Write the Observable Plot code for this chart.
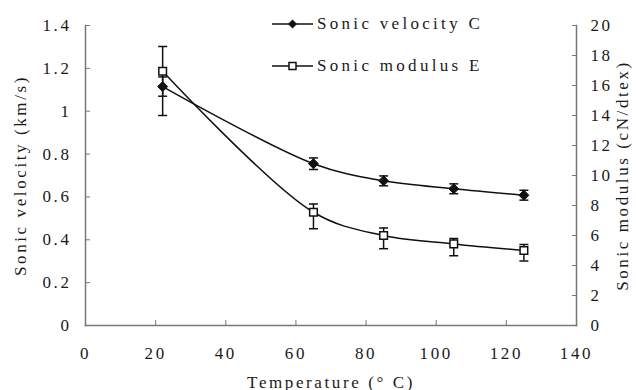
<!DOCTYPE html>
<html>
<head>
<meta charset="utf-8">
<script src="https://cdn.jsdelivr.net/npm/d3@7"></script>
<script src="https://cdn.jsdelivr.net/npm/@observablehq/plot@0.6"></script>
<style>
  body { margin: 0; background: #fff; }
  #wrap { position: relative; width: 636px; height: 390px; font-family: "Liberation Serif", serif; }
  #legend { position: absolute; left: 272px; top: 0; font-size: 17px; letter-spacing: 3.3px; color: #1a1a1a; }
  .row { position: absolute; left: 0; white-space: nowrap; display: flex; align-items: center; }
  .row svg { display: block; }
  .row span { margin-left: 4px; }
</style>
</head>
<body>
<div id="wrap"></div>
<script>
// ---- data ----
const temps = [22, 65, 85, 105, 125];
const velocity = [1.115, 0.755, 0.675, 0.638, 0.608];      // km/s
const velocityLo = [1.07, 0.728, 0.652, 0.615, 0.585];
const velocityHi = [1.16, 0.782, 0.698, 0.661, 0.631];
const modulus = [16.95, 7.55, 6.0, 5.44, 5.0];                // cN/dtex
const modulusLo = [14.0, 6.45, 5.12, 4.65, 4.3];
const modulusHi = [18.6, 8.1, 6.5, 5.8, 5.4];
const xTicks = [0, 20, 40, 60, 80, 100, 120, 140];
const leftTicks = [0, 0.2, 0.4, 0.6, 0.8, 1, 1.2, 1.4];
const rightTicks = [0, 2, 4, 6, 8, 10, 12, 14, 16, 18, 20];
const seriesNames = ["Sonic velocity C", "Sonic modulus E"];

const leftMax = 1.4, rightMax = 20;
const toLeft = (e) => e * leftMax / rightMax;

const vel = temps.map((t, i) => ({t, v: velocity[i], lo: velocityLo[i], hi: velocityHi[i]}));
const mod = temps.map((t, i) => ({t, v: toLeft(modulus[i]), lo: toLeft(modulusLo[i]), hi: toLeft(modulusHi[i])}));

const cap = {
  draw(context, size) {
    const r = Math.sqrt(size / Math.PI);
    context.moveTo(-r, 0);
    context.lineTo(r, 0);
  }
};

const axisColor = "#777";
const textColor = "#1a1a1a";

const chart = Plot.plot({
  width: 636,
  height: 390,
  marginTop: 25,
  marginBottom: 65,
  marginLeft: 85,
  marginRight: 60,
  style: {fontFamily: "'Liberation Serif', serif", fontSize: "17px", letterSpacing: "2.6px", color: textColor, background: "white"},
  x: {domain: [0, 140]},
  y: {domain: [0, leftMax]},
  marks: [
    Plot.frame({anchor: "left", stroke: axisColor, strokeWidth: 1.5}),
    Plot.frame({anchor: "bottom", stroke: axisColor, strokeWidth: 1.5}),
    Plot.frame({anchor: "right", stroke: axisColor, strokeWidth: 1.5}),
    Plot.axisX({ticks: xTicks, tickSize: -5, tickPadding: 26, stroke: axisColor, fill: textColor,
      label: "Temperature (° C)", labelAnchor: "center", labelArrow: "none", labelOffset: 62, tickFormat: d => String(d)}),
    Plot.axisY({anchor: "left", ticks: leftTicks, tickSize: -5, tickPadding: 19, stroke: axisColor, fill: textColor,
      label: "Sonic velocity (km/s)", labelAnchor: "center", labelArrow: "none", labelOffset: 72, tickFormat: d => String(d)}),
    Plot.axisY({anchor: "right", ticks: rightTicks.map(toLeft), tickSize: -5, tickPadding: 19, stroke: axisColor, fill: textColor,
      label: "Sonic modulus (cN/dtex)", labelAnchor: "center", labelArrow: "none", labelOffset: 51,
      tickFormat: d => String(Math.round(d * rightMax / leftMax))}),
    // error bars
    Plot.ruleX(mod, {x: "t", y1: "lo", y2: "hi", stroke: "#111", strokeWidth: 1.5}),
    Plot.dot(mod, {x: "t", y: "lo", symbol: cap, r: 4.5, stroke: "#111", strokeWidth: 1.5}),
    Plot.dot(mod, {x: "t", y: "hi", symbol: cap, r: 4.5, stroke: "#111", strokeWidth: 1.5}),
    Plot.ruleX(vel, {x: "t", y1: "lo", y2: "hi", stroke: "#111", strokeWidth: 1.5}),
    Plot.dot(vel, {x: "t", y: "lo", symbol: cap, r: 4.5, stroke: "#111", strokeWidth: 1.5}),
    Plot.dot(vel, {x: "t", y: "hi", symbol: cap, r: 4.5, stroke: "#111", strokeWidth: 1.5}),
    // lines
    Plot.line(vel, {x: "t", y: "v", curve: "catmull-rom", stroke: "#111", strokeWidth: 1.5}),
    Plot.line(mod, {x: "t", y: "v", curve: "catmull-rom", stroke: "#111", strokeWidth: 1.5}),
    // markers
    Plot.dot(vel, {x: "t", y: "v", symbol: "diamond2", r: 4.5, fill: "#111", stroke: "#111", strokeWidth: 1}),
    Plot.dot(mod, {x: "t", y: "v", symbol: "square", r: 4.3, fill: "white", stroke: "#111", strokeWidth: 1.5})
  ]
});

const wrap = document.getElementById("wrap");
wrap.appendChild(chart);

const legend = document.createElement("div");
legend.id = "legend";
const symbols = [
  `<svg width="41" height="12"><line x1="0" y1="6" x2="41" y2="6" stroke="#111" stroke-width="1.5"/><path d="M20.5,1.5L25,6L20.5,10.5L16,6Z" fill="#111"/></svg>`,
  `<svg width="41" height="12"><line x1="0" y1="6" x2="41" y2="6" stroke="#111" stroke-width="1.5"/><rect x="17" y="2.5" width="7" height="7" fill="white" stroke="#111" stroke-width="1.5"/></svg>`
];
const rowTops = [14, 56];
seriesNames.forEach((name, i) => {
  const row = document.createElement("div");
  row.className = "row";
  row.style.top = rowTops[i] + "px";
  row.style.height = "20px";
  row.innerHTML = symbols[i] + `<span>${name}</span>`;
  legend.appendChild(row);
});
wrap.appendChild(legend);
</script>
</body>
</html>
